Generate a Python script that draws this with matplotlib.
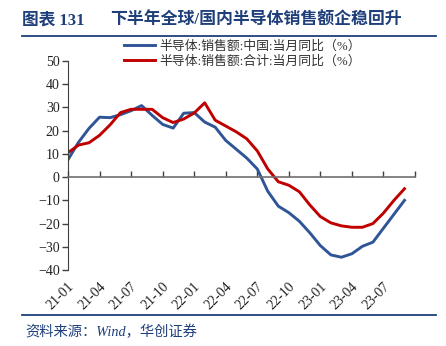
import matplotlib
matplotlib.use("Agg")
import matplotlib.pyplot as plt
import matplotlib.transforms as mtransforms

# monthly data, 21-01 .. 23-09
months = ["21-01", "21-02", "21-03", "21-04", "21-05", "21-06", "21-07", "21-08", "21-09",
          "21-10", "21-11", "21-12", "22-01", "22-02", "22-03", "22-04", "22-05", "22-06",
          "22-07", "22-08", "22-09", "22-10", "22-11", "22-12", "23-01", "23-02", "23-03",
          "23-04", "23-05", "23-06", "23-07", "23-08", "23-09"]
china_yoy = [7.5, 15.0, 21.0, 25.8, 25.6, 26.9, 28.6, 30.8, 26.6, 22.7, 21.1, 27.5,
             27.8, 23.7, 21.5, 15.8, 12.0, 8.2, 3.5, -6.1, -12.5, -15.3, -19.0, -24.0,
             -29.5, -33.5, -34.5, -33.0, -29.8, -28.0, -22.0, -16.0, -10.0]
world_yoy = [10.5, 13.8, 14.8, 18.0, 22.5, 27.8, 29.2, 29.2, 29.2, 25.6, 23.5, 25.0,
             27.6, 32.0, 24.5, 22.0, 19.5, 16.5, 11.3, 3.5, -2.0, -3.5, -6.3, -12.0,
             -17.0, -19.7, -21.0, -21.6, -21.6, -20.0, -15.5, -10.0, -5.0]
tick_labels = ["21-01", "21-04", "21-07", "21-10", "22-01", "22-04", "22-07", "22-10",
               "23-01", "23-04", "23-07"]
series_names = ["半导体:销售额:中国:当月同比（%）", "半导体:销售额:合计:当月同比（%）"]

BLUE = "#2F5597"
RED = "#C00000"
NAVY = "#1F3F7A"
CJK = ["Liberation Serif", "Noto Sans CJK SC"]

fig = plt.figure(figsize=(4.46, 3.46), dpi=100)
ax = fig.add_axes([68 / 446, 1 - 270 / 346, (415 - 68) / 446, (270 - 61) / 346])

x = list(range(len(months)))
ax.plot(x, china_yoy, color=BLUE, lw=2.1, solid_joinstyle="round", label=series_names[0])
ax.plot(x, world_yoy, color=RED, lw=2.1, solid_joinstyle="round", label=series_names[1])

ax.set_xlim(0, 33)
ax.set_ylim(-40, 50)
ax.set_yticks(range(-40, 51, 10))
ax.tick_params(axis="y", direction="out", length=4, width=1, color="#404040", pad=2,
               labelsize=10, labelcolor="#222222")
for lab in ax.get_yticklabels():
    lab.set_family("Liberation Serif")

ax.spines["top"].set_visible(False)
ax.spines["right"].set_visible(False)
ax.spines["left"].set_color("#404040")
ax.spines["bottom"].set_position(("data", 0))
ax.spines["bottom"].set_color("#707070")
ax.spines["bottom"].set_linewidth(1.2)

tick_pos = list(range(0, 34, 3))
ax.set_xticks(tick_pos)
ax.tick_params(axis="x", direction="in", length=4, width=1, color="#404040", labelbottom=False)

# rotated date labels below the plot area
trans = mtransforms.blended_transform_factory(ax.transData, ax.transAxes) + \
    mtransforms.ScaledTranslation(4 / 100, 0, fig.dpi_scale_trans)
for pos, lab in zip(tick_pos, tick_labels):
    ax.text(pos, -0.07, lab, transform=trans, rotation=45, rotation_mode="anchor",
            ha="right", va="center", fontsize=10, family="Liberation Serif", color="#222222")

leg = fig.legend(loc="upper left", bbox_to_anchor=(124 / 446, 1 - 40 / 346), frameon=False,
                 prop={"family": CJK, "size": 9.3}, handlelength=2.4, labelspacing=0.25,
                 handletextpad=0.3, borderaxespad=0, borderpad=0)
for t in leg.get_texts():
    t.set_color("#333333")

# title and rules
fig.text(22 / 446, 1 - 21 / 346, "图表 131", fontsize=12, fontweight="bold", color=NAVY,
         family=CJK, va="center", ha="left")
fig.text(110 / 446, 1 - 21 / 346, "下半年全球/国内半导体销售额企稳回升", fontsize=12.2,
         fontweight="bold", color=NAVY, family=CJK, va="center", ha="left")
fig.add_artist(plt.Line2D([22 / 446, 436 / 446], [1 - 36 / 346] * 2, color=NAVY, lw=1.3))
fig.add_artist(plt.Line2D([22 / 446, 436 / 446], [1 - 315 / 346] * 2, color=NAVY, lw=1.3))
fig.text(25 / 446, 1 - 332 / 346, "资料来源：Wind，华创证券", fontsize=10.3, style="italic",
         color=NAVY, family=CJK, va="center", ha="left")

fig.savefig("out.png", dpi=100)
